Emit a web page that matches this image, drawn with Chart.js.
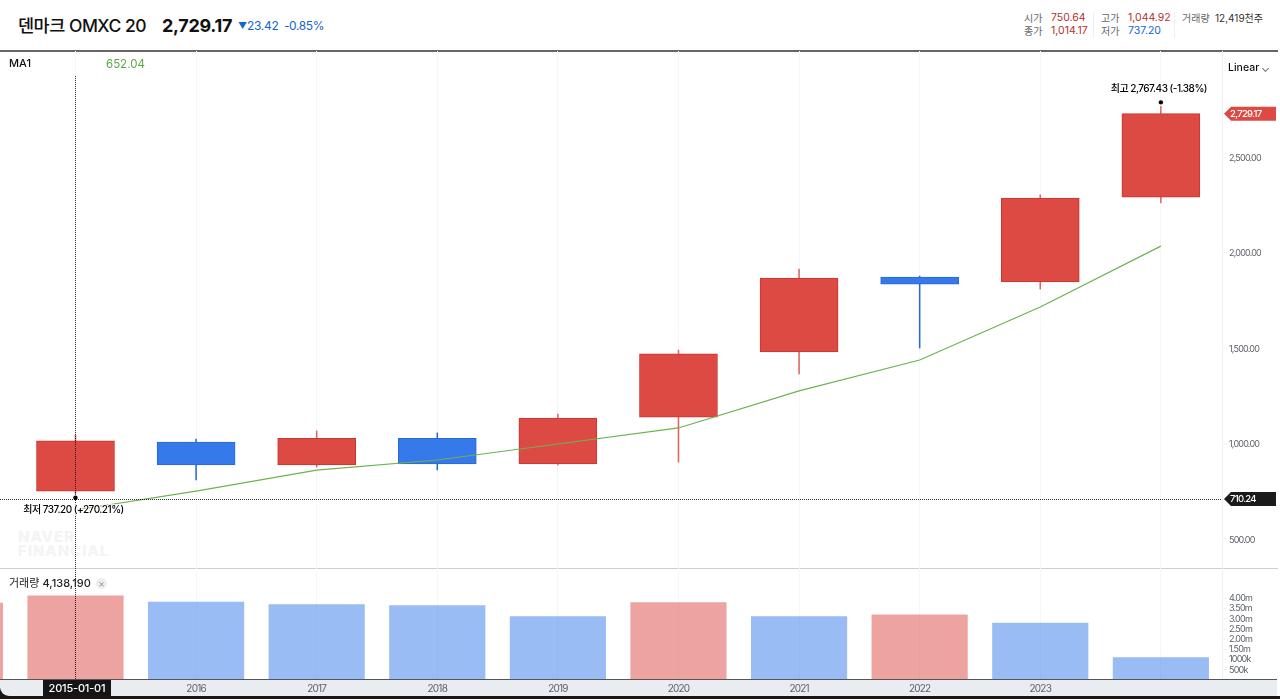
<!DOCTYPE html>
<html lang="ko"><head><meta charset="utf-8">
<script src="https://cdn.jsdelivr.net/npm/chart.js@4"></script>
<style>
html,body{margin:0;padding:0;width:1280px;height:699px;overflow:hidden;background:#fff;font-family:Inter,"Noto Sans CJK KR",sans-serif;color:#111}
.t{position:absolute;white-space:nowrap;line-height:1}
canvas{position:absolute;left:0;top:0;z-index:1}
.r{color:#b3322d}.b{color:#1565d0}.g{color:#666}
.top{z-index:2}
</style></head><body>
<div class="t" style="left:18px;top:17px;font-size:17.5px;letter-spacing:-.5px;font-weight:500">덴마크 OMXC 20</div>
<div class="t" style="left:162px;top:17px;font-size:18px;font-weight:700;letter-spacing:-.3px">2,729.17</div>
<div class="t b" style="left:238px;top:21px;font-size:9px">▼</div>
<div class="t b" style="left:247px;top:20px;font-size:12px;letter-spacing:-.3px">23.42</div>
<div class="t b" style="left:284px;top:20px;font-size:12px;letter-spacing:-.4px">-0.85%</div>

<div class="t g" style="left:1024px;top:13px;font-size:10px">시가</div>
<div class="t r" style="left:1051px;top:13px;font-size:10.5px">750.64</div>
<div class="t g" style="left:1024px;top:26px;font-size:10px">종가</div>
<div class="t r" style="left:1051px;top:26px;font-size:10.5px">1,014.17</div>
<div class="t g" style="left:1101px;top:13px;font-size:10px">고가</div>
<div class="t r" style="left:1128px;top:13px;font-size:10.5px">1,044.92</div>
<div class="t g" style="left:1101px;top:26px;font-size:10px">저가</div>
<div class="t b" style="left:1128px;top:26px;font-size:10.5px">737.20</div>
<div class="t g" style="left:1182px;top:13px;font-size:10px">거래량</div>
<div class="t" style="left:1215px;top:13px;font-size:10px;color:#333">12,419천주</div>
<div style="position:absolute;left:1093px;top:12px;width:1px;height:26px;background:#eceef1"></div>
<div style="position:absolute;left:1174px;top:12px;width:1px;height:26px;background:#eceef1"></div>

<div style="position:absolute;left:0;top:50px;width:1278px;height:2px;background:#666"></div>
<div style="position:absolute;left:0;top:568px;width:1278px;height:1px;background:#cdd0d6"></div>
<div style="position:absolute;left:0;top:696px;width:1280px;height:3px;background:#1c1512"></div>
<div style="position:absolute;left:0;top:688px;width:10px;height:11px;background:#1c1512"></div>
<div style="position:absolute;left:0;top:680px;width:1277px;height:16px;background:#e9ecf1;border-bottom-left-radius:9px"></div>

<div class="t" style="left:18px;top:530px;font-size:15px;line-height:14px;font-weight:800;letter-spacing:.9px;color:#f3f4f6">NAVER<br>FINANCIAL</div>

<canvas id="c" width="1280" height="699" style="width:1280px;height:699px"></canvas>

<div class="t top" style="left:9px;top:58px;font-size:11px;font-weight:500">MA1</div>
<div class="t top" style="left:106px;top:59px;font-size:11.5px;color:#5aa945">652.04</div>
<div class="t top" style="left:1228px;top:63px;font-size:10.5px;font-weight:500">Linear</div>
<div class="top" style="position:absolute;left:1263px;top:66px;width:4px;height:4px;border-right:1px solid #777;border-bottom:1px solid #777;transform:rotate(45deg)"></div>
<div class="t top" style="left:9px;top:578px;font-size:11px;color:#222">거래량 <span style="font-weight:500">4,138,190</span></div>
<div class="t top" style="left:96px;top:578px;width:11px;height:11px;border-radius:50%;background:#eee;color:#999;font-size:10px;line-height:11px;text-align:center">×</div>

<script>
const years   = [2014, 2015, 2016, 2017, 2018, 2019, 2020, 2021, 2022, 2023, 2024];
const opens   = [null, 750.64, 1008, 888, 1027, 893, 1139, 1480, 1873, 1847, 2292];
const closes  = [null, 1014.17, 888, 1027, 893, 1134, 1470, 1868, 1836, 2287, 2729.17];
const highs   = [null, 1044.92, 1024, 1066, 1056, 1155, 1490, 1915, 1878, 2303, 2767.43];
const lows    = [null, 737.20, 809, 877, 862, 888, 903, 1365, 1501, 1810, 2261];
const ma1     = [null, 652.04, 751, 861, 914, 998, 1082, 1276, 1438, 1716, 2035];
const volumes = [3780000, 4138190, 3830000, 3700000, 3660000, 3120000, 3800000, 3120000, 3200000, 2800000, 1100000];
const volumeUp= [true, true, false, false, false, false, true, false, true, false, false];
const priceTicks  = [500, 1000, 1500, 2000, 2500];
const volumeTicks = [500000, 1000000, 1500000, 2000000, 2500000, 3000000, 3500000, 4000000];
const currentPrice = 2729.17, crossPrice = 710.24, crossYear = 2015;

const RED='#dc4a43', REDB='#c8352f', BLUE='#3579ea', BLUEB='#2a69cf';
const up = i => closes[i] >= opens[i];
const FONT='Inter,"Noto Sans CJK KR",sans-serif';

const overlay = {
  id:'overlay',
  beforeDraw(ch){ ch.ctx.letterSpacing='-0.8px'; },
  afterDatasetsDraw(ch){
    const c=ch.ctx, x=ch.scales.x, y=ch.scales.y, a=ch.chartArea;
    const cx=x.getPixelForValue(crossYear), cy=y.getPixelForValue(crossPrice);
    c.save();
    c.fillStyle='#555'; c.fillRect(0,679,1277,1);
    c.strokeStyle='rgba(0,0,0,.8)'; c.lineWidth=1; c.setLineDash([1,1]);
    c.beginPath(); c.moveTo(0,Math.round(cy)+.5); c.lineTo(a.right,Math.round(cy)+.5);
    c.moveTo(Math.round(cx)+.5,76); c.lineTo(Math.round(cx)+.5,a.bottom); c.stroke();
    c.setLineDash([]);
    // high / low markers
    const hx=x.getPixelForValue(2024), hy=y.getPixelForValue(highs[10])-4;
    const lx=cx, ly=y.getPixelForValue(lows[1])+4;
    c.fillStyle='#000';
    c.beginPath(); c.arc(hx,hy,2.2,0,7); c.fill();
    c.beginPath(); c.arc(lx,ly,2.2,0,7); c.fill();
    c.font='500 10px '+FONT; c.textAlign='center'; c.textBaseline='middle'; c.letterSpacing='-0.5px';
    c.lineJoin='round'; c.strokeStyle='rgba(255,255,255,.9)'; c.lineWidth=2;
    const hl='최고 2,767.43 (-1.38%)', ll='최저 737.20 (+270.21%)';
    c.strokeText(hl,hx-2,hy-13); c.fillText(hl,hx-2,hy-13);
    c.strokeText(ll,lx-2,ly+12); c.fillText(ll,lx-2,ly+12);
    // price tags
    c.letterSpacing='-0.7px';
    tag(c,a.right+2,y.getPixelForValue(currentPrice),'#dc4a43','2,729.17');
    tag(c,a.right+2,cy,'#1a1a1a','710.24');
    // crosshair date box
    c.fillStyle='#151515'; c.fillRect(43,680,68,16);
    c.fillStyle='#fff'; c.font='500 11px '+FONT; c.textAlign='center'; c.letterSpacing='-0.2px';
    c.fillText('2015-01-01',cx+1.5,688.5);
    c.restore();
  }
};
function tag(c,l,py,col,txt){
  const h=7;
  c.fillStyle=col; c.beginPath();
  c.moveTo(l,py); c.lineTo(l+7,py-h); c.lineTo(1276,py-h); c.lineTo(1276,py+h); c.lineTo(l+7,py+h); c.closePath(); c.fill();
  c.fillStyle='#fff'; c.font='500 9.5px '+FONT; c.textAlign='left'; c.textBaseline='middle';
  c.fillText(txt,1230,py+.5);
}
const fmtVol = v => v>=1500000 ? (v/1e6).toFixed(2)+'m' : (v/1000)+'k';
const fmtPrice = v => v.toLocaleString('en-US',{minimumFractionDigits:2,maximumFractionDigits:2});

new Chart(document.getElementById('c'),{
  type:'bar',
  data:{datasets:[
    {type:'line',label:'MA1',yAxisID:'y',xAxisID:'x',order:0,
     data:years.map((v,i)=>({x:v,y:ma1[i]})),borderColor:'#6cb350',borderWidth:1.2,pointRadius:0,tension:0,fill:false,spanGaps:false},
    {label:'body',yAxisID:'y',xAxisID:'x',order:1,grouped:false,barThickness:78,borderSkipped:false,borderWidth:1,
     data:years.map((v,i)=>({x:v,y:opens[i]==null?null:[opens[i],closes[i]]})),
     backgroundColor:years.map((v,i)=>up(i)?RED:BLUE),borderColor:years.map((v,i)=>up(i)?REDB:BLUEB)},
    {label:'wick',yAxisID:'y',xAxisID:'x',order:2,grouped:false,barThickness:0.9,borderWidth:0,
     data:years.map((v,i)=>({x:v,y:highs[i]==null?null:[lows[i],highs[i]]})),
     backgroundColor:years.map((v,i)=>up(i)?'#de6660':'#2a69cf')},
    {label:'거래량',yAxisID:'v',xAxisID:'x',order:3,grouped:false,barThickness:95.5,borderWidth:0,
     data:years.map((v,i)=>({x:v,y:volumes[i]})),
     backgroundColor:years.map((v,i)=>volumeUp[i]?'rgba(220,74,67,.5)':'rgba(53,121,234,.5)')}
  ]},
  options:{
    responsive:false,animation:false,devicePixelRatio:1,
    layout:{padding:{left:0,top:51,right:3,bottom:3}},
    plugins:{legend:{display:false},tooltip:{enabled:false}},
    font:{family:FONT},
    scales:{
      x:{type:'linear',position:'bottom',min:2014.374,max:2024.507,offset:false,
        afterBuildTicks(s){s.ticks=years.filter(v=>v>=2015).map(v=>({value:v}));},
        afterFit(s){s.height=16;},
        grid:{color:'#f5f6f8',lineWidth:1,drawTicks:false,offset:false},
        border:{display:false},
        ticks:{maxRotation:0,autoSkip:false,padding:3,color:'#5d6168',font:{family:FONT,size:10},
          callback:v=>(v===crossYear||v===2024)?'':String(v)}},
      y:{type:'linear',position:'right',stack:'s',stackWeight:517,min:348,max:3057.6,
        afterBuildTicks(s){s.ticks=priceTicks.map(v=>({value:v}));},
        afterFit(s){s.width=55;},
        grid:{display:true,drawOnChartArea:false,drawTicks:true,tickLength:5,color:'#f1f2f5'},
        border:{display:true,color:'#eff0f3'},
        ticks:{padding:2,labelOffset:1,color:'#5d6168',font:{family:FONT,size:9},callback:v=>fmtPrice(v)}},
      v:{type:'linear',position:'right',stack:'s',stackWeight:112,min:0,max:5500000,
        afterBuildTicks(s){s.ticks=volumeTicks.map(v=>({value:v}));},
        afterFit(s){s.width=55;},
        grid:{display:true,drawOnChartArea:false,drawTicks:true,tickLength:5,color:'#f1f2f5'},
        border:{display:true,color:'#eff0f3'},
        ticks:{padding:2,color:'#5d6168',autoSkip:false,font:{family:FONT,size:9},callback:v=>fmtVol(v)}}
    }
  },
  plugins:[overlay]
});
</script>
</body></html>
